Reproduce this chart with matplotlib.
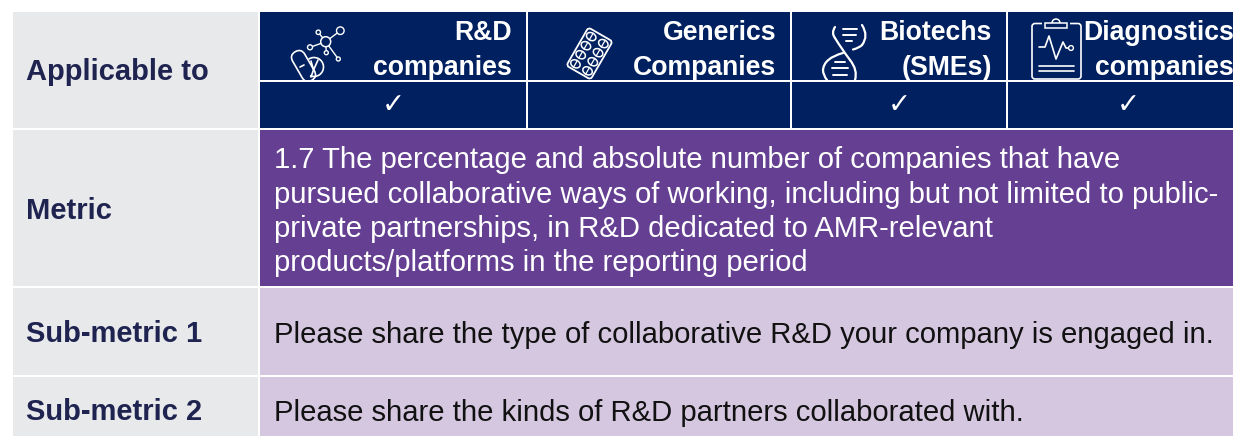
import matplotlib
matplotlib.use("Agg")
import matplotlib.pyplot as plt
from matplotlib.patches import Rectangle, Circle, FancyBboxPatch, Ellipse, Arc, PathPatch
from matplotlib.path import Path
from matplotlib.transforms import Affine2D

plt.rcParams['font.family'] = ['Liberation Sans', 'DejaVu Sans']

row_labels = ["Applicable to", "Metric", "Sub-metric 1", "Sub-metric 2"]
header_top = ["R&D", "Generics", "Biotechs", "Diagnostics"]
header_bottom = ["companies", "Companies", "(SMEs)", "companies"]
applies = [True, False, True, True]
metric_lines = [
    "1.7 The percentage and absolute number of companies that have",
    "pursued collaborative ways of working, including but not limited to public-",
    "private partnerships, in R&D dedicated to AMR-relevant",
    "products/platforms in the reporting period",
]
sub_metrics = [
    "Please share the type of collaborative R&D your company is engaged in.",
    "Please share the kinds of R&D partners collaborated with.",
]

NAVY = "#00205F"
PURPLE = "#643F92"
LILAC = "#D5C7E0"
GREY = "#E8E9EB"
LABEL = "#1E2350"

# last column runs off the right side of the picture
col_edges = [(260, 526), (528, 790), (792, 1006), (1008, 1248)]
row_edges = [(12, 128), (130, 286), (288, 375), (377, 436)]

fig = plt.figure(figsize=(12.33, 4.36), dpi=100)
ax = fig.add_axes([0, 0, 1, 1])
ax.set_xlim(0, 1233)
ax.set_ylim(436, 0)
ax.axis("off")


def box(x0, x1, y0, y1, color, zorder=1):
    ax.add_patch(Rectangle((x0, y0), x1 - x0, y1 - y0, fc=color, ec="none", zorder=zorder))


def line(xs, ys, lw=1.2):
    ax.plot(xs, ys, color="white", lw=lw, solid_capstyle="round", zorder=2)


def curve(p0, ctrl, p1, lw=1.4):
    path = Path([p0, ctrl, p1], [Path.MOVETO, Path.CURVE3, Path.CURVE3])
    ax.add_patch(PathPatch(path, fc="none", ec="white", lw=lw, capstyle="round", zorder=2))


def ring(x, y, r, lw=1.0):
    ax.add_patch(Circle((x, y), r, fc=NAVY, ec="white", lw=lw, zorder=3))


def molecule_icon():
    hub = (325.7, 41.7)
    for x, y, r in [(340.3, 30.7, 3.8), (318.3, 32.3, 2.2), (310, 47.3, 2.5),
                    (326.3, 52.7, 2.0), (338.3, 59, 2.0)]:
        line([hub[0], x], [hub[1], y], 1.0)
        ring(x, y, r, 1.0)
    ring(hub[0], hub[1], 5, 1.1)
    # capsule and tablet
    ax.add_patch(Arc((314, 67), 19, 19, theta1=-125, theta2=115, ec="white", lw=1.2, zorder=2))
    turned = Affine2D().rotate_deg_around(303.5, 66, -30) + ax.transData
    ax.add_patch(FancyBboxPatch((296.5, 49.5), 14, 33, boxstyle="round,pad=0,rounding_size=7",
                                fc="none", ec="white", lw=1.2, zorder=2, transform=turned))
    line([300, 304], [67, 65], 1.2)
    line([311, 313.5, 318], [61, 70, 60], 1.2)
    line([313.5, 311], [70, 77], 1.2)


def blister_icon():
    turned = Affine2D().rotate_deg_around(589.5, 53.5, 30) + ax.transData
    ax.add_patch(FancyBboxPatch((575.5, 31.5), 28, 44, boxstyle="round,pad=0,rounding_size=3",
                                fc=NAVY, ec="white", lw=1.3, zorder=2, transform=turned))
    for x in (582.5, 596.5):
        for y in (38, 48.5, 59, 69.5):
            ax.add_patch(Ellipse((x, y), 10, 7.5, fc=NAVY, ec="white", lw=1.1, zorder=2, transform=turned))
            ax.plot([x, x], [y - 3.7, y + 3.7], color="white", lw=0.9, transform=turned, zorder=2)


def dna_icon():
    curve((835, 27), (831, 33), (835, 38), 1.6)
    curve((835, 38), (841, 48), (850, 60), 1.6)
    curve((850, 60), (858, 70), (855, 80), 1.6)
    curve((862, 25), (869, 36), (862, 45), 1.6)
    curve((862, 45), (859, 48), (853, 49.5), 1.6)
    curve((843, 53), (824, 58), (823, 70), 1.6)
    curve((823, 70), (823, 75), (827, 80), 1.6)
    for x0, x1, y in [(843, 857, 29), (843, 856, 35), (846, 852, 41),
                      (835, 845, 62), (832, 848, 68), (833, 847, 75)]:
        line([x0, x1], [y, y], 1.4)


def clipboard_icon():
    ax.add_patch(FancyBboxPatch((1032, 23.5), 49, 55.5, boxstyle="round,pad=0,rounding_size=3",
                                fc="none", ec="white", lw=1.2, zorder=2))
    box(1042, 1070, 20, 27, NAVY, zorder=2)
    ax.add_patch(Rectangle((1045, 23), 22, 5, fc=NAVY, ec="white", lw=1.1, zorder=2))
    ax.add_patch(Arc((1056, 23), 8, 8, theta1=180, theta2=360, ec="white", lw=1.1, zorder=2))
    line([1039, 1045, 1049, 1056, 1063, 1066, 1068], [47, 47, 36, 59, 42, 48, 48], 1.2)
    ring(1071, 48, 2.4, 1.0)
    line([1039, 1074], [66, 66], 1.2)
    line([1039, 1074], [71, 71], 1.2)


# left column and body bands
for (y0, y1) in row_edges:
    box(13, 258, y0, y1, GREY)
box(260, 1248, row_edges[1][0], row_edges[1][1], PURPLE)
box(260, 1248, row_edges[2][0], row_edges[2][1], LILAC)
box(260, 1248, row_edges[3][0], row_edges[3][1], LILAC)

# header grid
for (x0, x1), top, bottom, tick in zip(col_edges, header_top, header_bottom, applies):
    box(x0, x1, 12, 80, NAVY)
    box(x0, x1, 80, 82, "white", zorder=5)
    box(x0, x1, 82, 128, NAVY, zorder=5)
    ax.text(x1 - 14, 33, top, color="white", fontsize=19.2, fontweight="bold", ha="right", va="center")
    ax.text(x1 - 14, 68, bottom, color="white", fontsize=19.2, fontweight="bold", ha="right", va="center", zorder=4)
    if tick:
        ax.text((x0 + x1) / 2, 105, "\u2713", color="white", fontsize=20,
                family="DejaVu Sans", ha="center", va="center", zorder=6)

molecule_icon()
blister_icon()
dna_icon()
clipboard_icon()

# row labels
for text, y in zip(row_labels, [72.5, 210.5, 334, 411.5]):
    ax.text(26.5, y, text, color=LABEL, fontsize=21, fontweight="bold", ha="left", va="center")

# metric body
for text, y in zip(metric_lines, [160, 195, 229, 263]):
    ax.text(274, y, text, color="white", fontsize=21.05, ha="left", va="center")

for text, y in zip(sub_metrics, [335, 413]):
    ax.text(274, y, text, color="#111111", fontsize=21.05, ha="left", va="center")

fig.savefig("out.png", dpi=100)
